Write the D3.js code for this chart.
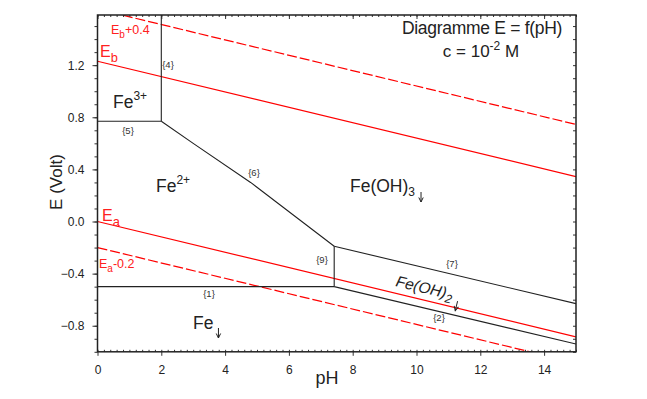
<!DOCTYPE html>
<html>
<head>
<meta charset="utf-8">
<script src="https://cdn.jsdelivr.net/npm/d3@7"></script>
<style>
  body { margin: 0; background: #fff; }
  text { font-family: "Liberation Sans", Arial, sans-serif; }
</style>
</head>
<body>
<div id="chart"></div>
<script>
// axis ranges and ticks
const phDomain = [0, 15];
const eDomain = [-1.0, 1.585];
const phTicks = [0, 2, 4, 6, 8, 10, 12, 14];
const eTicks = [-0.8, -0.4, 0.0, 0.4, 0.8, 1.2];

// water lines (red) read at pH 0 and pH 15
const eb = [[0, 1.23], [15, 0.345]];
const ebPlus = [[0, 1.63], [15, 0.745]];
const ea = [[0, 0.0], [15, -0.885]];
const eaMinus = [[0, -0.2], [15, -1.085]];

// iron boundaries (black)
const line1 = [[0, -0.5], [7.42, -0.5]];
const line2 = [[7.42, -0.5], [15, -0.94]];
const line4 = [[2, 0.77], [2, 1.585]];
const line5 = [[0, 0.77], [2, 0.77]];
const line6 = [[2, 0.77], [3, 0.60], [4.8, 0.30], [7.42, -0.19]];
const line7 = [[7.42, -0.19], [15, -0.63]];
const line9 = [[7.42, -0.5], [7.42, -0.19]];

const W = 647, H = 399;
const pLeft = 97.5, pTop = 15, pRight = 576, pBottom = 351.8;

const svg = d3.select("#chart").append("svg")
  .attr("width", W).attr("height", H);

const x = d3.scaleLinear().domain(phDomain).range([pLeft, pRight]);
const y = d3.scaleLinear().domain(eDomain).range([pBottom, pTop]);

svg.append("clipPath").attr("id", "clip")
  .append("rect").attr("x", pLeft).attr("y", pTop)
  .attr("width", pRight - pLeft).attr("height", pBottom - pTop);

const line = d3.line().x(d => x(d[0])).y(d => y(d[1]));
const plot = svg.append("g").attr("clip-path", "url(#clip)");

// red lines
[[eb, null], [ebPlus, "10,3"], [ea, null], [eaMinus, "10,3"]].forEach(([d, dash]) => {
  plot.append("path").datum(d).attr("d", line)
    .attr("fill", "none").attr("stroke", "#ff0000").attr("stroke-width", 1.2)
    .attr("stroke-dasharray", dash);
});

// black boundaries
[line1, line2, line4, line5, line6, line7, line9].forEach(d => {
  plot.append("path").datum(d).attr("d", line)
    .attr("fill", "none").attr("stroke", "#222").attr("stroke-width", 1.1);
});

// axes
const minorE = d3.range(-1.0, 1.59, 0.1).map(v => +v.toFixed(1));
const minorPh = d3.range(0, 15.01, 0.2).map(v => +v.toFixed(1));

svg.append("g").attr("transform", `translate(${pLeft},0)`)
  .call(d3.axisLeft(y).tickValues(minorE).tickSize(3).tickFormat(""));
svg.append("g").attr("transform", `translate(${pLeft},0)`)
  .call(d3.axisLeft(y).tickValues(eTicks).tickSize(5).tickPadding(8).tickFormat(d3.format(".1f")));
svg.append("g").attr("transform", `translate(${pRight},0)`)
  .call(d3.axisLeft(y).tickValues(minorE).tickSize(3).tickFormat(""));

svg.append("g").attr("transform", `translate(0,${pBottom})`)
  .call(d3.axisTop(x).tickValues(minorPh).tickSize(2).tickFormat(""));
svg.append("g").attr("transform", `translate(0,${pBottom})`)
  .call(d3.axisBottom(x).tickValues(phTicks).tickSize(4).tickPadding(10).tickFormat(d3.format("d")));
svg.append("g").attr("transform", `translate(0,${pTop})`)
  .call(d3.axisBottom(x).tickValues(minorPh).tickSize(2).tickFormat(""));
svg.append("g").attr("transform", `translate(0,${pTop})`)
  .call(d3.axisBottom(x).tickValues(phTicks).tickSize(4).tickFormat(""));

svg.selectAll(".domain").remove();
svg.selectAll(".tick line").attr("stroke", "#333");
svg.selectAll(".tick text").attr("font-size", 12).attr("fill", "#222")
  .style("font-family", "Liberation Sans, Arial, sans-serif");

svg.append("rect").attr("x", pLeft).attr("y", pTop)
  .attr("width", pRight - pLeft).attr("height", pBottom - pTop)
  .attr("fill", "none").attr("stroke", "#222").attr("stroke-width", 1.5);

// axis titles
svg.append("text").attr("x", 327).attr("y", 384).attr("text-anchor", "middle")
  .attr("font-size", 18).attr("fill", "#222").text("pH");
svg.append("text").attr("transform", "translate(62,182) rotate(-90)")
  .attr("text-anchor", "middle").attr("font-size", 17).attr("fill", "#222").text("E (Volt)");

// title
svg.append("text").attr("x", 482).attr("y", 34).attr("text-anchor", "middle")
  .attr("font-size", 17.5).attr("letter-spacing", -0.3).attr("fill", "#222").text("Diagramme E = f(pH)");
const c = svg.append("text").attr("x", 481).attr("y", 57).attr("text-anchor", "middle")
  .attr("font-size", 17).attr("fill", "#222");
c.append("tspan").text("c = 10");
c.append("tspan").attr("dy", -7).attr("font-size", 12).text("-2");
c.append("tspan").attr("dy", 7).text(" M");

// red labels
function sub(tx, ty, main, s, rest, fs, color) {
  const t = svg.append("text").attr("x", tx).attr("y", ty)
    .attr("font-size", fs).attr("fill", color);
  t.append("tspan").text(main);
  t.append("tspan").attr("dy", fs * 0.3).attr("font-size", fs * 0.8).text(s);
  if (rest) t.append("tspan").attr("dy", -fs * 0.3).text(rest);
  return t;
}
sub(111, 34, "E", "b", "+0.4", 12.5, "#ff2020");
sub(100, 57, "E", "b", null, 16, "#ff2020");
sub(102, 221, "E", "a", null, 16, "#ff2020");
sub(99, 268, "E", "a", "-0.2", 12.5, "#ff2020");

// species labels
function sup(tx, ty, main, s) {
  const t = svg.append("text").attr("x", tx).attr("y", ty)
    .attr("font-size", 17.5).attr("fill", "#222");
  t.append("tspan").text(main);
  t.append("tspan").attr("dy", -8).attr("font-size", 12).text(s);
}
sup(113, 108, "Fe", "3+");
sup(156, 192, "Fe", "2+");

// precipitate labels with a small down arrow drawn after the text
function solid(transform, main, s, fs, italic) {
  const g = svg.append("g").attr("transform", transform);
  const t = g.append("text").attr("font-size", fs).attr("fill", "#222")
    .attr("font-style", italic ? "italic" : null);
  t.append("tspan").text(main);
  if (s) t.append("tspan").attr("dy", 4).attr("font-size", 12).text(s);
  const ax = t.node().getComputedTextLength() + (s ? 6 : 5);
  const ay = s ? 0 : -1;
  g.append("line").attr("x1", ax).attr("x2", ax).attr("y1", ay).attr("y2", ay + 10)
    .attr("stroke", "#222").attr("stroke-width", 1);
  g.append("path").attr("d", `M${ax - 2.2},${ay + 5.5}L${ax},${ay + 10}L${ax + 2.2},${ay + 5.5}`)
    .attr("fill", "none").attr("stroke", "#222").attr("stroke-width", 1);
}
solid("translate(350,192)", "Fe(OH)", "3", 17.5, false);
solid("translate(395,286) rotate(13.5)", "Fe(OH)", "2", 15.5, true);
solid("translate(193,329)", "Fe", null, 17.5, false);

// boundary numbers
const nums = [["{1}", 209, 297], ["{2}", 439, 321], ["{4}", 168, 68], ["{5}", 128, 134],
  ["{6}", 254, 176], ["{7}", 452, 267], ["{9}", 322, 263]];
svg.selectAll(".num").data(nums).enter().append("text")
  .attr("x", d => d[1]).attr("y", d => d[2]).attr("text-anchor", "middle")
  .attr("font-size", 9.5).attr("fill", "#333").text(d => d[0]);
</script>
</body>
</html>
